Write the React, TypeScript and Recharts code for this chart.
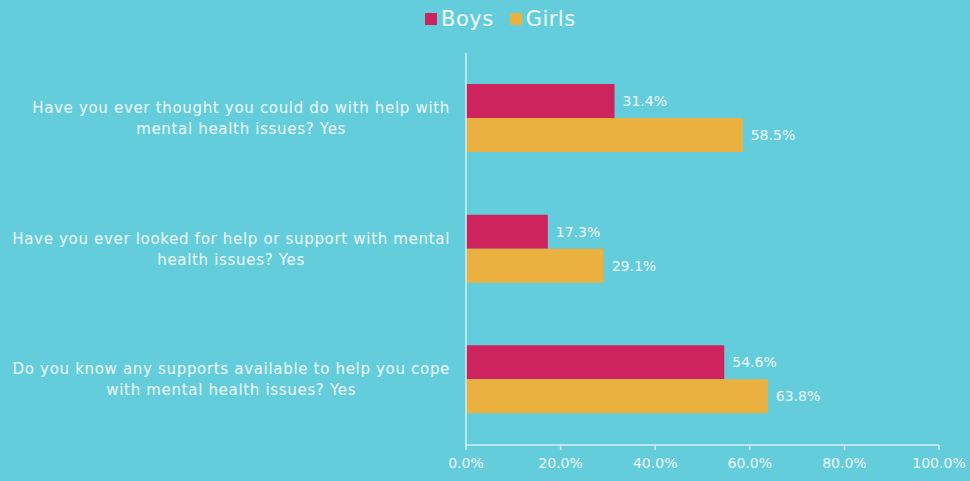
import React from "react";
import { BarChart, Bar, XAxis, YAxis, LabelList } from "recharts";

const categories = [
  "Have you ever thought you could do with help with\nmental health issues? Yes",
  "Have you ever looked for help or support with mental\nhealth issues? Yes",
  "Do you know any supports available to help you cope\nwith mental health issues? Yes",
];
const boys = [31.4, 17.3, 54.6];
const girls = [58.5, 29.1, 63.8];
const xTicks = [0, 20, 40, 60, 80, 100];

const data = categories.map((c, i) => ({ name: c, Boys: boys[i], Girls: girls[i] }));

const FONT = "'DejaVu Sans', sans-serif";
const TXT = "#EEF8FA";
const AXIS = "#D5F0F4";
const BOYS_C = "#CD245E";
const GIRLS_C = "#EBB140";
const BG = "#64CDDC";
const CAT_FS = 15;
const CAT_LS = 0.68;

let ctx: CanvasRenderingContext2D | null = null;
function measure(s: string, font: string): number {
  if (!ctx) ctx = document.createElement("canvas").getContext("2d");
  if (!ctx) return s.length * 8;
  ctx.font = font;
  return ctx.measureText(s).width;
}

const CatTick = (props: any) => {
  const { x, y, payload } = props;
  const lines = String(payload.value).split("\n");
  const maxW = Math.max(
    ...lines.map((l) => measure(l, `${CAT_FS}px 'DejaVu Sans'`) + CAT_LS * l.length)
  );
  const cx = x - maxW / 2;
  const lh = 21;
  const start = y - ((lines.length - 1) * lh) / 2;
  return (
    <text
      x={cx}
      y={start}
      textAnchor="middle"
      fill={TXT}
      fontSize={CAT_FS}
      fontFamily={FONT}
      letterSpacing={CAT_LS}
      dominantBaseline="central"
    >
      {lines.map((l, i) => (
        <tspan key={i} x={cx} y={start + i * lh}>
          {l}
        </tspan>
      ))}
    </text>
  );
};

const LegendBox = () => (
  <div
    style={{
      position: "absolute",
      left: 425,
      top: 6,
      height: 26,
      display: "flex",
      alignItems: "center",
      fontFamily: FONT,
      fontSize: 21,
      letterSpacing: 0.5,
      color: TXT,
      whiteSpace: "nowrap",
    }}
  >
    <span style={{ display: "inline-block", width: 12, height: 12, background: BOYS_C, marginRight: 4 }} />
    <span style={{ marginRight: 16 }}>Boys</span>
    <span style={{ display: "inline-block", width: 12, height: 12, background: GIRLS_C, marginRight: 4 }} />
    <span>Girls</span>
  </div>
);

export default function App() {
  return (
    <div style={{ position: "absolute", left: 0, top: 0, width: 970, height: 481, background: BG }}>
      <BarChart
        width={970}
        height={481}
        data={data}
        layout="vertical"
        margin={{ top: 53, right: 31, bottom: 6, left: 0 }}
        barCategoryGap={31}
        barGap={0}
      >
        <XAxis
          type="number"
          domain={[0, 100]}
          ticks={xTicks}
          tickFormatter={(v: number) => v.toFixed(1) + "%"}
          height={30}
          stroke={AXIS}
          strokeWidth={1.5}
          tickSize={5}
          tick={{ fill: TXT, fontSize: 14, fontFamily: FONT }}
          tickMargin={8}
        />
        <YAxis
          type="category"
          dataKey="name"
          width={466}
          stroke={AXIS}
          strokeWidth={1.5}
          tickLine={false}
          tickSize={0}
          tickMargin={16}
          tick={<CatTick />}
          interval={0}
        />
        <Bar dataKey="Boys" fill={BOYS_C} isAnimationActive={false}>
          <LabelList
            dataKey="Boys"
            position="right"
            offset={8}
            formatter={(v: number) => v.toFixed(1) + "%"}
            fill={TXT}
            fontSize={14}
            fontFamily={FONT}
          />
        </Bar>
        <Bar dataKey="Girls" fill={GIRLS_C} isAnimationActive={false}>
          <LabelList
            dataKey="Girls"
            position="right"
            offset={8}
            formatter={(v: number) => v.toFixed(1) + "%"}
            fill={TXT}
            fontSize={14}
            fontFamily={FONT}
          />
        </Bar>
      </BarChart>
      <LegendBox />
    </div>
  );
}
